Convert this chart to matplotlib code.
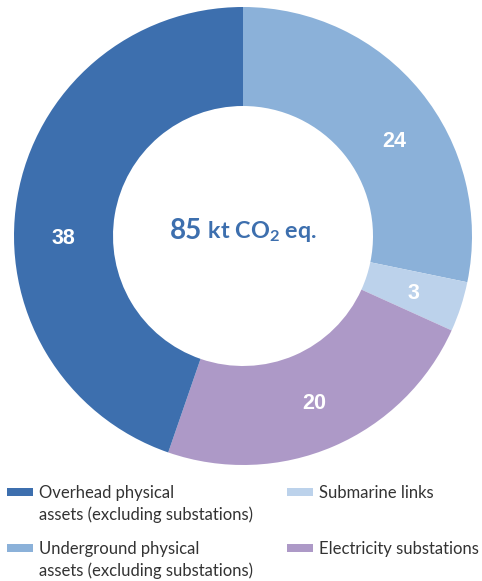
import matplotlib
matplotlib.use("Agg")
import numpy as np
import matplotlib.pyplot as plt
from matplotlib.patches import Rectangle

# emissions split, kt CO2 eq.
categories = ["Underground physical\nassets (excluding substations)",
              "Submarine links",
              "Electricity substations",
              "Overhead physical\nassets (excluding substations)"]
values = [24, 3, 20, 38]
colors = ["#8BB1D9", "#BCD2EB", "#AD99C7", "#3D6FAE"]
total = sum(values)
# nudges (degrees) for the value labels that don't sit at the slice middle
label_shift = [-6.4, 0, 0, 9.5]

plt.rcParams['font.family'] = ['Lato', 'DejaVu Sans']
plt.rcParams['mathtext.fontset'] = 'custom'
plt.rcParams['mathtext.rm'] = 'Lato:bold'
plt.rcParams['mathtext.bf'] = 'Lato:bold'

W, H = 482, 581
fig = plt.figure(figsize=(W/100, H/100), dpi=100)
ax = fig.add_axes([14/W, 116/H, 458/W, 458/H])

wedges, texts, autotexts = ax.pie(
    values, colors=colors, startangle=90, counterclock=False,
    radius=1.0, wedgeprops=dict(width=99/229, linewidth=0),
    autopct=lambda p: "{:.0f}".format(p * total / 100),
    pctdistance=179.5/229,
    textprops=dict(color="white", fontsize=15.5, fontweight="bold",
                   family="Liberation Sans"))
ax.set_xlim(-1, 1)
ax.set_ylim(-1, 1)
ax.set_aspect("equal")
ax.axis("off")

r = 179.5/229
for w, t, s in zip(wedges, autotexts, label_shift):
    ang = np.deg2rad((w.theta1 + w.theta2) / 2 + s)
    t.set_position((r*np.cos(ang), r*np.sin(ang)))
    t.set_va("center_baseline")

# centre total
blue = "#3D6FAE"
t1 = ax.text(-0.318, -0.015, "{}".format(total), fontsize=20, fontweight="bold",
             color=blue, ha="left", va="baseline")
ax.annotate(r" kt CO$_2$ eq.", xy=(1, 0), xycoords=t1, fontsize=16.8,
            fontweight="bold", color=blue, va="bottom", ha="left")

# legend: overhead/underground in first column, submarine/substations in second
order = [3, 0, 1, 2]
cols_x = [7, 287]
rows_y = [492, 548]
line_h = 22
for k, i in enumerate(order):
    x = cols_x[k // 2]
    y = rows_y[k % 2]
    fig.patches.append(Rectangle((x/W, 1 - (y + 4)/H), 26/W, 8/H,
                                 transform=fig.transFigure,
                                 facecolor=colors[i], edgecolor="none"))
    nlines = categories[i].count("\n") + 1
    base = y + 6 + (nlines - 1) * line_h
    fig.text((x + 32)/W, 1 - base/H, categories[i], fontsize=12,
             color="#333333", ha="left", va="baseline", linespacing=1.38)

fig.savefig("out.png", dpi=100)
